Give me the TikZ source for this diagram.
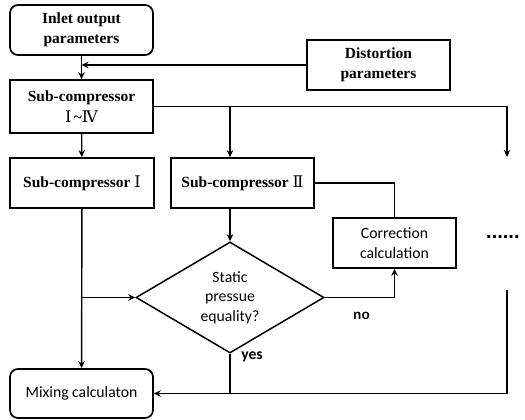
\documentclass[tikz,border=0pt]{standalone}
\usepackage{fontspec}
\setmainfont{Liberation Serif}
\newfontfamily\calib{Carlito}
\newfontfamily\arialf{Liberation Sans}
\newfontfamily\romnum{DejaVu Serif}
\newcommand{\rn}[1]{{\romnum\mdseries\fontsize{16}{20}\selectfont\symbol{#1}}}
\usetikzlibrary{shapes.geometric,arrows.meta}
\begin{document}
\begin{tikzpicture}[x=1pt,y=-1pt,
  box/.style={draw,line width=1.7pt,minimum width=143pt,minimum height=50pt,inner sep=0pt,
    align=center,font=\fontsize{15.5}{20.5}\selectfont\bfseries},
  rbox/.style={box,rounded corners=8pt},
  sbox/.style={draw,line width=1.7pt,inner sep=0pt,align=center,
    font=\calib\fontsize{15.7}{19.5}\selectfont},
  conn/.style={line width=1.4pt},
  arr/.style={conn,-{Stealth[length=7pt,width=6.5pt]}},
  lbl/.style={inner sep=0pt,font=\calib\bfseries\fontsize{15.7}{19}\selectfont},
]
\useasboundingbox[fill=white] (0,0) rectangle (525,420);

% boxes
\node[rbox] (inlet) at (81.5,30) {Inlet output\\parameters};
\node[box] (dist) at (378.5,65) {Distortion\\parameters};
\node[box,minimum height=53pt] (s14) at (81.5,106.5) {Sub-compressor\\\rn{"2160}\,\textasciitilde\rn{"2163}};
\node[box,minimum width=144pt] (s1) at (82,183) {Sub-compressor \rn{"2160}};
\node[box] (s2) at (242.5,183) {Sub-compressor \rn{"2161}};
\node[sbox,minimum width=123pt,minimum height=50pt] (corr) at (394.5,243) {Correction\\calculation};
\node[sbox,diamond,minimum width=188pt,minimum height=81pt,line width=1.5pt] (dia) at (230,297.5)
  {Static\\pressue\\equality?};
\node[sbox,rounded corners=8pt,minimum width=143pt,minimum height=49pt] (mix) at (81.5,393.5) {Mixing calculaton};
\node[inner sep=0pt,anchor=west,font=\arialf\bfseries\fontsize{20}{20}\selectfont] (dots) at (486,237) {......};

% labels
\node[lbl,font=\arialf\bfseries\fontsize{13.6}{16}\selectfont] (no) at (361.5,316) {no};
\node[lbl] (yes) at (252,357) {yes};

% helper points
\coordinate (more) at (507,157);
\coordinate (back) at (507,290);

% connectors
\draw[arr] (inlet) -- (s14);
\draw[arr] (dist.west) -- (dist.west -| inlet.south);
\draw[arr] (s14.east) -- (s14.east -| more) -- (more);
\draw[arr] (s14.east -| dia.north) -- (s2.north -| dia.north);
\draw[arr] (s14) -- (s1);
\draw[arr] (s2.south -| dia.north) -- (dia.north);
\draw[conn] (s2.east) -- (s2.east -| corr.north) -- (corr.north);
\draw[arr] (dia.east) -- (dia.east -| corr.south) -- (corr.south);
\draw[arr] (s1) -- (mix);
\draw[arr] (s1.south |- dia.west) -- (dia.west);
\draw[conn] (dia.south) -- (dia.south |- mix.east);
\draw[arr] (back) -- (back |- mix.east) -- (mix.east);
\end{tikzpicture}
\end{document}
